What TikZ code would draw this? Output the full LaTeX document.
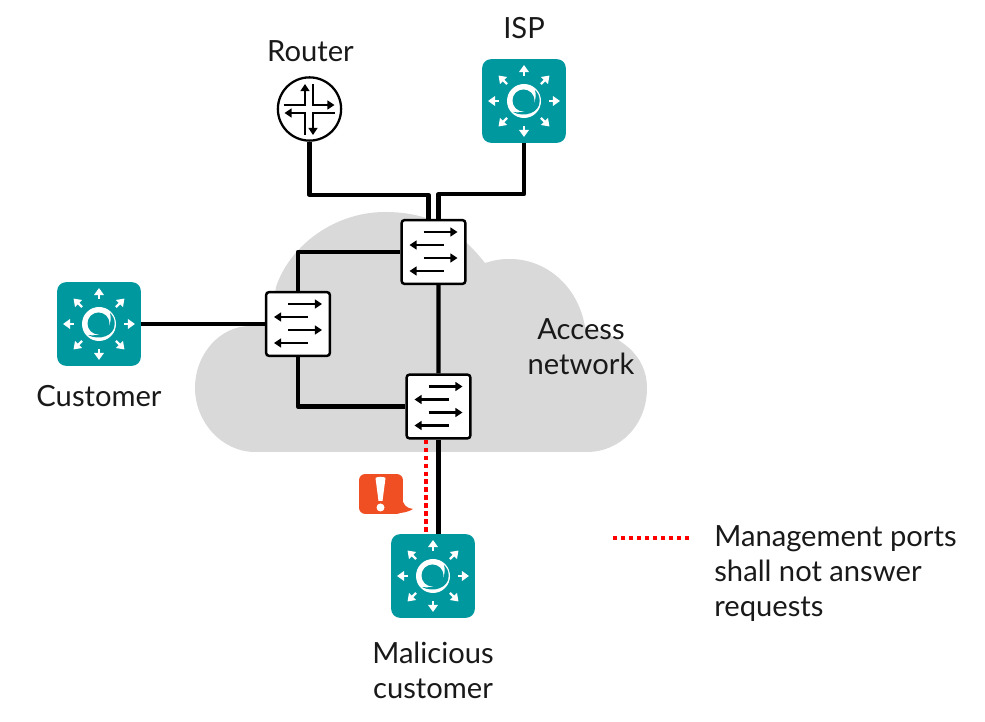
\documentclass[tikz,border=0pt]{standalone}
\usepackage{fontspec}
\setmainfont{Lato}
\usetikzlibrary{arrows.meta}

\definecolor{hubteal}{HTML}{00989F}
\definecolor{cloudgray}{HTML}{D9D9D9}
\definecolor{alertred}{HTML}{F04E23}

\tikzset{
    label text/.style={font=\fontsize{16.6}{19.8}\selectfont, text=black!90, align=center, inner sep=0pt},
    link/.style={line width=2.5pt, line join=round},
    badlink/.style={line width=2.3pt, red, dash pattern=on 2.3pt off 2.25pt},
    hub box/.style={fill=hubteal, rounded corners=5pt, minimum size=47.6pt, inner sep=0pt},
    hub arrow/.style={white, line width=1.4pt, -{Triangle[length=4pt,width=5.4pt]}},
    switch box/.style={draw=black, fill=white, line width=1.4pt, rounded corners=1.5pt, minimum size=36.2pt, inner sep=0pt},
    switch arrow/.style={line width=1.25pt, -{Triangle[length=4pt,width=5pt]}},
    router box/.style={circle, draw=black, fill=white, line width=1.3pt, minimum size=36pt, inner sep=0pt},
    router arrow/.style={line width=1.25pt, -{Triangle[length=4pt,width=5pt]}},
    hubicon/.pic={
        \node[hub box] (-box) at (0,0) {};
        \foreach \ang in {0,90,180,270} {
            \draw[hub arrow] (\ang:25) -- (\ang:36);
        }
        \foreach \ang in {45,135,225,315} {
            \draw[hub arrow] (\ang:24) -- (\ang:36);
        }
        % swirl
        \fill[white] (0,0) circle [radius=17];
        \fill[hubteal] (-0.5,-0.5) circle [radius=11];
        \fill[hubteal] (-11,11) .. controls (0,17) and (15.7,12) .. (15.7,0)
            .. controls (15.7,-5) and (14,-8) .. (11,-11)
            .. controls (13,-3) and (11,4) .. (5,8)
            .. controls (1,11) and (-5,12) .. (-11,11) -- cycle;
    },
    switchicon/.pic={
        \draw[switch arrow] (-10,-20) -- (24,-20);
        \draw[switch arrow] (10,-7) -- (-24,-7);
        \draw[switch arrow] (-10,6) -- (24,6);
        \draw[switch arrow] (10,19) -- (-24,19);
    },
    routericon/.pic={
        \draw[router arrow] (-26,-4) -- (-4.5,-4) -- (-4.5,-25);
        \draw[router arrow] (3.5,-25) -- (3.5,-4) -- (25,-4);
        \draw[router arrow] (-4.5,26) -- (-4.5,4) -- (-25,4);
        \draw[router arrow] (25,4) -- (3.5,4) -- (3.5,26);
    },
}

\begin{document}
\begin{tikzpicture}[x=0.02cm, y=-0.02cm]
    \useasboundingbox (0,0) rectangle (985,722);

    % Access network cloud
    \fill[cloudgray] (255,452) .. controls (222,452) and (195,422) .. (195,388)
        .. controls (195,354) and (220,326) .. (250,326) -- (270,325) -- (276,287)
        .. controls (290,245) and (335,212) .. (385,212)
        .. controls (425,212) and (455,225) .. (485,263)
        .. controls (495,260) and (500,259) .. (510,259)
        .. controls (545,259) and (578,285) .. (585,327)
        .. controls (620,335) and (647,355) .. (647,388)
        .. controls (647,425) and (620,452) .. (587,452) -- cycle;

    % Hubs
    \pic (isp) at (524,101) {hubicon};
    \pic (customer) at (99,324) {hubicon};
    \pic (malicious) at (433,576) {hubicon};

    % Router
    \node[router box] (router) at (309.5,109) {};
    \pic at (309.5,109) {routericon};

    % Switches
    \node[switch box] (topswitch) at (433.5,252) {};
    \pic at (433.5,252) {switchicon};
    \node[switch box] (leftswitch) at (298,324) {};
    \pic at (298,324) {switchicon};
    \node[switch box] (botswitch) at (438.5,406.5) {};
    \pic at (438.5,406.5) {switchicon};

    % Links to the top switch
    \draw[link] (router.south) -- ++(0,53) -| ([xshift=-2.83pt]topswitch.north);
    \draw[link] (isp-box.south) -- ++(0,51) -| ([xshift=2.83pt]topswitch.north);

    % Links inside the access network
    \draw[link] (topswitch.west) -| (leftswitch.north);
    \draw[link] (leftswitch.south) |- (botswitch.west);
    \draw[link] ([xshift=2.83pt]topswitch.south) -- (botswitch.north);

    % Customer links
    \draw[link] (customer-box.east) -- (leftswitch.west);
    \draw[link] (botswitch.south) -- (botswitch.south |- malicious-box.north);
    \draw[badlink] ([xshift=-7.1pt]botswitch.south) -- ([xshift=-7.1pt]botswitch.south |- malicious-box.north);

    % Alert sign
    \node[fill=alertred, rounded corners=3.5pt, minimum width=25pt, minimum height=22.7pt, inner sep=0pt] (alert) at (381,494) {};
    \fill[alertred] (alert.east) ++(-2,2) .. controls (403,505) and (406,508) .. (413,509)
        .. controls (408,512) and (403,513) .. (398,513) -- cycle;
    \fill[white] (375.5,478) .. controls (376,476.5) and (385,476.5) .. (385.5,478)
        -- (382.5,501) -- (378.5,501) -- cycle;
    \fill[white] (380.5,507.5) circle [radius=4];

    % Labels
    \node[label text] (routerlabel) at (310.5,51) {Router};
    \node[label text] (isplabel) at (524,28) {ISP};
    \node[label text] (customerlabel) at (99,396) {Customer};
    \node[label text] (accesslabel) at (581,347) {Access\\network};
    \node[label text] (maliciouslabel) at (433,670.5) {Malicious\\customer};

    % Legend
    \coordinate (legendstart) at (613,538);
    \coordinate (legendend) at (692,538);
    \draw[badlink] (legendstart) -- (legendend);
    \node[label text, align=left, anchor=west] (legendlabel) at (714,573.5) {Management ports\\shall not answer\\requests};
\end{tikzpicture}
\end{document}
